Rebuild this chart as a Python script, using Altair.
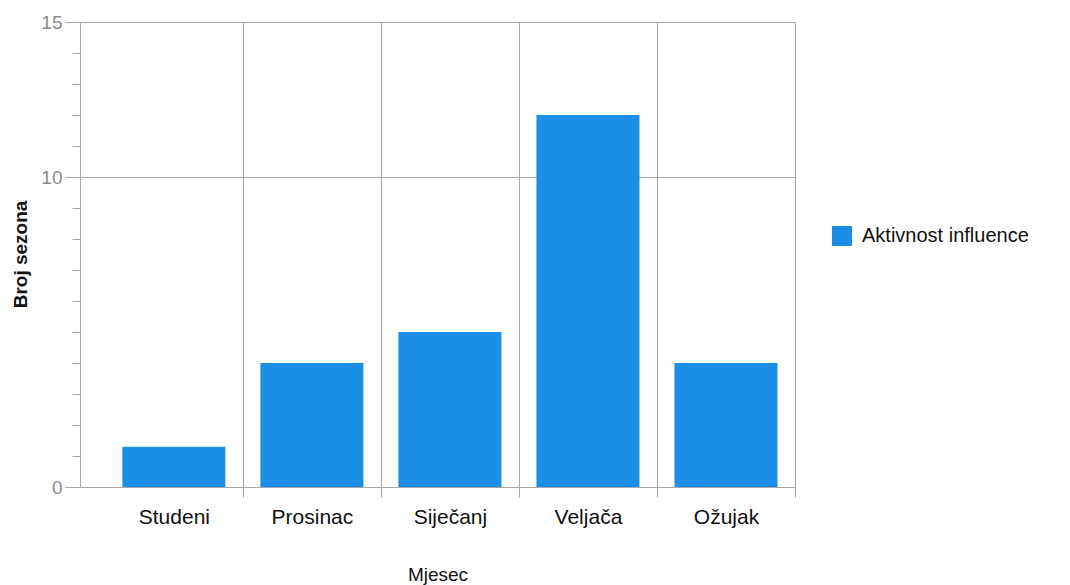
import altair as alt
import pandas as pd

months = ["Studeni", "Prosinac", "Siječanj", "Veljača", "Ožujak"]
counts = [1.3, 4, 5, 12, 4]
series_name = "Aktivnost influence"
y_label_values = [0, 10, 15]

df = pd.DataFrame({
    "Mjesec": months,
    "Broj": counts,
    "i": list(range(len(months))),
    "Serija": [series_name] * len(months),
})

names_js = "[" + ",".join("'" + m + "'" for m in months) + "]"
ylab_js = "[" + ",".join(str(v) for v in y_label_values) + "]"
x_vals = [k / 2 for k in range(0, 2 * len(months))]  # 0,0.5,...,4.5
y_vals = list(range(0, 16))

FONT = "Liberation Sans"
GRID = "#a6a6a6"

x_axis = alt.Axis(
    title="Mjesec",
    values=x_vals,
    labelExpr=f"datum.value % 1 == 0 ? {names_js}[datum.value] : ''",
    labelOverlap=False,
    labelFlush=False,
    labelBound=False,
    labelFont=FONT,
    labelFontSize=21,
    labelColor="#111111",
    labelPadding=9,
    tickSize=10,
    tickColor=GRID,
    tickOpacity={"condition": {"test": "datum.value % 1 == 0", "value": 0}, "value": 1},
    grid=True,
    gridColor=GRID,
    gridOpacity={"condition": {"test": "datum.value % 1 == 0", "value": 0}, "value": 1},
    domainColor=GRID,
    titleFont=FONT,
    titleFontSize=19,
    titleFontWeight="normal",
    titleColor="#111111",
    titleY=78,
    titleBaseline="top",
)

y_axis = alt.Axis(
    title="Broj sezona",
    values=y_vals,
    labelExpr=f"indexof({ylab_js}, datum.value) >= 0 ? datum.label : ''",
    labelFont=FONT,
    labelFontSize=19,
    labelColor="#8a8a8a",
    labelPadding=3,
    tickSize={"condition": {"test": f"indexof({ylab_js}, datum.value) >= 0", "value": 15}, "value": 8},
    tickColor=GRID,
    grid=True,
    gridColor=GRID,
    gridOpacity={"condition": {"test": f"indexof({ylab_js}, datum.value) >= 0", "value": 1}, "value": 0},
    domainColor=GRID,
    titleFont=FONT,
    titleFontSize=19,
    titleFontWeight="bold",
    titleColor="#111111",
    titleX=-54,
    titleY=232,
    titleAlign="center",
    titleBaseline="alphabetic",
)

chart = alt.Chart(df).mark_bar(size=103).encode(
    x=alt.X("i:Q", scale=alt.Scale(domain=[-0.68, 4.5], nice=False, zero=False, padding=0), axis=x_axis),
    y=alt.Y("Broj:Q", scale=alt.Scale(domain=[0, 15], nice=False), axis=y_axis),
    color=alt.Color(
        "Serija:N",
        scale=alt.Scale(range=["#1B8FE6"]),
        legend=alt.Legend(
            title=None,
            orient="none",
            legendX=752,
            legendY=204,
            symbolType="square",
            symbolSize=400,
            symbolStrokeWidth=0,
            symbolOpacity=1,
            labelFont=FONT,
            labelFontSize=20,
            labelColor="#111111",
            labelOffset=10,
            labelLimit=400,
        ),
    ),
).properties(
    width=715,
    height=465,
    autosize=alt.AutoSizeParams(type="none"),
    padding={"left": 72, "top": 14, "right": 267, "bottom": 98},
    background="white",
).configure_view(stroke=None)

chart.save("out.html", embed_options={"renderer": "svg", "actions": False})
